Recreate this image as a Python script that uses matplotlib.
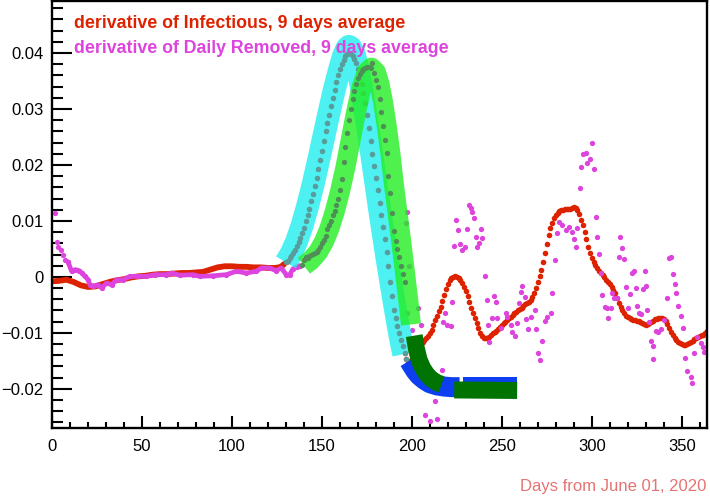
import matplotlib
matplotlib.use("Agg")
import matplotlib.pyplot as plt
from matplotlib.ticker import MultipleLocator, FuncFormatter

plt.rcParams['font.family'] = ['Liberation Sans', 'DejaVu Sans']

# ---------------- data ----------------
# derivative of Infectious, 9 days average (red)
red_days = [0, 4, 8, 12, 16, 20, 24, 28, 32, 36, 40, 44, 48, 52, 56, 60, 64, 68, 72, 76, 80,
            84, 88, 92, 96, 100, 104, 108, 112, 116, 120, 124, 126, 127, 128,
            129, 130, 131, 132, 133, 134, 135, 136, 137, 138, 139, 140, 141, 142, 143, 144,
            145, 146, 147, 148, 149, 150, 151, 152, 153, 154, 155, 156, 157, 158, 159, 160,
            161, 162, 163, 164, 165, 166, 167, 168, 169, 170, 171, 172, 173, 174, 175, 176,
            177, 178, 179, 180, 181, 182, 183, 184, 185, 186, 187, 188, 189, 190, 191, 192,
            193, 194, 195, 196, 197] + list(range(198, 365))
red_vals = [-0.0008, -0.0007, -0.0005, -0.0009, -0.0015, -0.0018, -0.0017, -0.0013, -0.0009,
            -0.0006, -0.0004, -0.0001, 0.0001, 0.0002, 0.0004, 0.0005, 0.0005, 0.0006, 0.0007,
            0.0007, 0.0008, 0.0009, 0.0013, 0.0017, 0.0019, 0.0019, 0.0018, 0.0018, 0.0017,
            0.0017, 0.0016, 0.0016, 0.0017, 0.0018, 0.0020,
            0.0023, 0.0026, 0.0029, 0.0033, 0.0037, 0.0042, 0.0048, 0.0055, 0.0062, 0.0070,
            0.0079, 0.0088, 0.0099, 0.0110, 0.0122, 0.0135, 0.0148, 0.0162, 0.0177, 0.0192,
            0.0208, 0.0225, 0.0243, 0.0260, 0.0275, 0.0290, 0.0305, 0.0320, 0.0334, 0.0348,
            0.0360, 0.0371, 0.0380, 0.0388, 0.0394, 0.0398, 0.0400, 0.0399, 0.0395, 0.0389,
            0.0382, 0.0372, 0.0360, 0.0345, 0.0328, 0.0310, 0.0289, 0.0266, 0.0243, 0.0220,
            0.0198, 0.0177, 0.0155, 0.0132, 0.0110, 0.0090, 0.0068, 0.0044, 0.0020, -0.0010,
            -0.0035, -0.0060, -0.0074, -0.0088, -0.0101, -0.0112, -0.0124, -0.0136, -0.0146,
            # 198 .. 364
            -0.0153, -0.0150, -0.0146, -0.0141, -0.0135, -0.0130, -0.0125, -0.0120, -0.0116,
            -0.0113, -0.0110, -0.0105, -0.0100, -0.0094, -0.0086, -0.0077, -0.0069, -0.0061,
            -0.0053, -0.0043, -0.0032, -0.0021, -0.0012, -0.0006, -0.0002, 0.0000, 0.0001,
            0.0000, -0.0002, -0.0006, -0.0011, -0.0018, -0.0026, -0.0035, -0.0045, -0.0055,
            -0.0064, -0.0073, -0.0083, -0.0092, -0.0100, -0.0106, -0.0109, -0.0110, -0.0109,
            -0.0107, -0.0104, -0.0101, -0.0098, -0.0096, -0.0093, -0.0090, -0.0086, -0.0083,
            -0.0080, -0.0077, -0.0074, -0.0071, -0.0068, -0.0065, -0.0062, -0.0060, -0.0057,
            -0.0055, -0.0052, -0.0049, -0.0047, -0.0045, -0.0041, -0.0036, -0.0029, -0.0020,
            -0.0010, 0.0001, 0.0013, 0.0027, 0.0043, 0.0059, 0.0075, 0.0087, 0.0097, 0.0105,
            0.0110, 0.0114, 0.0117, 0.0119, 0.0120, 0.0121, 0.0121, 0.0121, 0.0122, 0.0124,
            0.0125, 0.0124, 0.0119, 0.0112, 0.0102, 0.0092, 0.0080, 0.0067, 0.0054, 0.0043,
            0.0034, 0.0027, 0.0021, 0.0016, 0.0011, 0.0007, 0.0003, -0.0001, -0.0005, -0.0009,
            -0.0013, -0.0018, -0.0023, -0.0029, -0.0037, -0.0046, -0.0054, -0.0060, -0.0065,
            -0.0069, -0.0072, -0.0074, -0.0076, -0.0077, -0.0077, -0.0078, -0.0078, -0.0080,
            -0.0083, -0.0085, -0.0086, -0.0085, -0.0082, -0.0080, -0.0078, -0.0076, -0.0075,
            -0.0074, -0.0073, -0.0074, -0.0075, -0.0078, -0.0085, -0.0092, -0.0099, -0.0104,
            -0.0109, -0.0113, -0.0116, -0.0118, -0.0120, -0.0121, -0.0121, -0.0120, -0.0118,
            -0.0116, -0.0114, -0.0111, -0.0109, -0.0107, -0.0105, -0.0104, -0.0103, -0.0100,
            -0.0096]

# derivative of Daily Removed, 9 days average (magenta)
pink_days = [1.7, 2.7, 3.3, 5.0, 6.1, 7.2, 8.9, 10.9, 12.8, 15.2, 16.5, 18.3, 20.1, 21.1, 22.9,
             25.7, 27.6, 30.3, 33.1, 35.9, 39.6, 43.3, 47.0, 52.5, 57.1, 63.6, 66.4, 71.0, 78.4,
             82.1, 89.5, 96.9, 102.4, 108.0, 113.5, 116.3, 120.9, 124.6, 127.4, 130.2, 132.0,
             133.8, 136.0, 137.5,
             138, 139, 140, 141, 142, 143, 144, 145, 146, 147, 148, 149, 150, 151, 152, 153,
             154, 155, 156, 157, 158, 159, 160, 161, 162, 163, 164, 165, 166, 167, 168, 169,
             170, 171, 172, 173, 174, 175, 176, 177, 178, 179, 180, 181, 182, 183, 184, 185,
             186, 187, 188, 189, 190, 191, 192, 193, 194, 195, 196,
             196.9, 197.4, 197.5, 198.6, 200.2, 203.5, 205.2, 207.4, 210.2, 213.0, 214.1,
             216.9, 217.4, 218.5, 219.6, 221.9, 222.4, 223.5, 224.6, 225.7, 226.8, 227.9,
             229.6, 230.7, 231.8, 232.9, 233.5, 234.6, 235.7, 236.3, 237.4, 238.5, 239.0,
             240.7, 241.8, 242.4, 242.9, 244.6, 245.7, 246.8, 247.4, 249.6, 252.4, 252.9,
             255.1, 255.7, 257.3, 258.5, 259.6, 260.7, 261.2, 262.9, 263.4, 264.6, 266.2,
             268.4, 269.0, 270.1, 271.2, 272.3, 274.0, 275.1, 277.3, 277.9, 279.5, 280.6,
             281.8, 283.4, 285.6, 287.3, 288.9, 290.1, 291.2, 291.7, 293.4, 294.0, 295.1,
             296.7, 297.3, 298.9, 300.1, 301.2, 302.3, 302.8, 303.9, 305.0, 305.6, 307.3,
             308.4, 308.9, 310.6, 311.1, 312.3, 313.9, 315.0, 315.6, 316.7, 317.8, 318.9,
             320.0, 321.1, 322.2, 323.4, 324.5, 325.0, 326.1, 327.2, 328.3, 329.5, 330.0,
             330.6, 331.7, 332.8, 333.9, 334.0, 335.6, 336.7, 338.3, 340.0, 341.7, 342.8,
             343.9, 345.0, 346.1, 346.6, 347.7, 349.4, 350.5, 351.6, 352.7, 355.0, 355.5,
             356.6, 358.3, 360.5, 361.6, 362.2]
pink_vals = [0.0114, 0.0063, 0.0054, 0.0048, 0.0039, 0.0030, 0.0027, 0.0010, 0.0013, 0.0011,
             0.0007, 0.0001, -0.0005, -0.0014, -0.0017, -0.0014, -0.0020, -0.0011, -0.0014,
             -0.0005, -0.0005, 0.0001, 0.0001, 0.0001, 0.0004, 0.0004, 0.0007, 0.0003, 0.0004,
             0.0001, 0.0002, 0.0004, 0.0010, 0.0007, 0.0010, 0.0016, 0.0016, 0.0011, 0.0016,
             0.0004, 0.0003, 0.0014, 0.0018, 0.0020,
             0.0020, 0.0022, 0.0030, 0.0036, 0.0034, 0.0037, 0.0040, 0.0041, 0.0042, 0.0044,
             0.0048, 0.0053, 0.0060, 0.0066, 0.0073, 0.0085, 0.0093, 0.0100, 0.0110, 0.0118,
             0.0128, 0.0140, 0.0155, 0.0175, 0.0205, 0.0232, 0.0258, 0.0280, 0.0300, 0.0318,
             0.0332, 0.0345, 0.0355, 0.0362, 0.0368, 0.0372, 0.0374, 0.0375, 0.0375, 0.0374,
             0.0382, 0.0365, 0.0352, 0.0340, 0.0318, 0.0295, 0.0270, 0.0245, 0.0222, 0.0180,
             0.0150, 0.0115, 0.0082, 0.0065, 0.0050, 0.0035, 0.0020, 0.0005, -0.0010,
             0.0096, 0.0116, -0.0064, 0.0020, -0.0095, -0.0055, -0.0086, -0.0246, -0.0257,
             -0.0221, -0.0254, -0.0166, -0.0080, -0.0064, -0.0086, -0.0088, -0.0045, 0.0055,
             0.0102, 0.0084, 0.0059, 0.0048, 0.0054, 0.0086, 0.0129, 0.0123, 0.0116, 0.0105,
             0.0071, 0.0054, 0.0061, 0.0086, 0.0070, 0.0002, -0.0041, -0.0086, -0.0116,
             -0.0073, -0.0034, -0.0045, -0.0073, -0.0091, -0.0064, -0.0071, -0.0086, -0.0098,
             -0.0105, -0.0082, -0.0046, -0.0027, -0.0016, -0.0036, -0.0075, -0.0093, -0.0071,
             -0.0059, -0.0093, -0.0136, -0.0148, -0.0114, -0.0079, -0.0071, -0.0064, -0.0029,
             0.0030, 0.0079, 0.0098, 0.0093, 0.0084, 0.0089, 0.0080, 0.0068, 0.0054, 0.0088,
             0.0159, 0.0196, 0.0220, 0.0221, 0.0204, 0.0211, 0.0239, 0.0193, 0.0107, 0.0071,
             0.0041, 0.0007, -0.0032, -0.0054, -0.0055, -0.0073, -0.0055, -0.0029, -0.0037,
             -0.0037, 0.0036, 0.0071, 0.0052, 0.0032, -0.0018, -0.0055, -0.0030, 0.0007,
             0.0011, -0.0020, -0.0052, -0.0064, -0.0066, -0.0021, 0.0011, -0.0016, -0.0059,
             -0.0080, -0.0114, -0.0123, -0.0146, -0.0096, -0.0098, -0.0093, -0.0077, -0.0037,
             0.0034, 0.0036, 0.0005, -0.0013, -0.0029, -0.0052, -0.0070, -0.0091, -0.0145,
             -0.0168, -0.0179, -0.0189, -0.0136, -0.0107, -0.0118, -0.0125, -0.0134]

# fitted / extrapolated bands
cyan_days = [130, 133, 136, 139, 142, 145, 148, 151, 154, 157, 160, 162, 164, 165, 166, 168,
             170, 172, 174, 176, 178, 180, 182, 184, 186, 188, 190, 192, 194, 195.5]
cyan_vals = [0.0026, 0.0042, 0.0064, 0.0092, 0.0126, 0.0164, 0.0206, 0.0250, 0.0294, 0.0336,
             0.0373, 0.0395, 0.0409, 0.0412, 0.0410, 0.0397, 0.0372, 0.0338, 0.0298, 0.0256,
             0.0212, 0.0167, 0.0122, 0.0079, 0.0037, -0.0003, -0.0042, -0.0080, -0.0115,
             -0.0138]
green_days = [140, 144, 148, 151, 154, 157, 160, 163, 166, 169, 172, 175, 177.5, 180, 182, 184,
              186, 188, 190, 192, 194, 196, 198, 199.5]
green_vals = [0.0020, 0.0030, 0.0045, 0.0062, 0.0085, 0.0115, 0.0152, 0.0195, 0.0245, 0.0295,
              0.0338, 0.0366, 0.0374, 0.0366, 0.0345, 0.0312, 0.0270, 0.0222, 0.0165, 0.0115,
              0.0065, 0.0012, -0.0042, -0.0085]
blue_days_a = [198.5, 200, 202, 204, 207, 210, 214, 218, 222, 226.5]
blue_vals_a = [-0.0150, -0.0158, -0.0168, -0.0176, -0.0184, -0.0190, -0.0194, -0.0196, -0.0197, -0.0197]
blue_days_b = [228.5, 258.5]
blue_vals_b = [-0.0197, -0.0197]
dkgreen_days_a = [201.3, 202.5, 204, 206, 208.5, 211, 214, 216.5]
dkgreen_vals_a = [-0.0105, -0.0128, -0.0148, -0.0163, -0.0175, -0.0183, -0.0189, -0.0192]
dkgreen_days_b = [223.5, 258.5]
dkgreen_vals_b = [-0.0202, -0.0203]

xticks = [0, 50, 100, 150, 200, 250, 300, 350]
legend_labels = ["derivative of Infectious, 9 days average",
                 "derivative of Daily Removed, 9 days average"]
xlabel_text = "Days from June 01, 2020"

# ---------------- style ----------------
RED = "#dd2200"
PINK = "#dd44dd"
CYAN = "#22eeee"
LGREEN = "#22ee22"
BLUE = "#0d3ff0"
DKGREEN = "#007300"

fig = plt.figure(figsize=(7.1, 4.97), dpi=100)
ax = fig.add_axes([52 / 710, 69 / 497, 655 / 710, 427 / 497])

# split series by region
red_line = [(d, v) for d, v in zip(red_days, red_vals) if d <= 129]
red_in = [(d, v) for d, v in zip(red_days, red_vals) if 129 < d <= 197]
red_out = [(d, v) for d, v in zip(red_days, red_vals) if d > 197]
pink_dots_early = [(d, v) for d, v in zip(pink_days, pink_vals) if d < 10]
pink_line = [(d, v) for d, v in zip(pink_days, pink_vals) if 8 < d < 139]
pink_in = [(d, v) for d, v in zip(pink_days, pink_vals) if 139 <= d <= 196]
pink_out = [(d, v) for d, v in zip(pink_days, pink_vals) if d > 196]

def xs(p): return [a for a, b in p]
def ys(p): return [b for a, b in p]

ax.plot(xs(red_line), ys(red_line), color=RED, lw=4.2, solid_capstyle='round', zorder=2)
ax.plot(xs(red_out), ys(red_out), 'o', color=RED, ms=4.0, mec='none', zorder=2)
ax.plot(xs(red_in), ys(red_in), 'o', color=RED, ms=4.0, mec='none', zorder=2)

ax.plot(xs(pink_line), ys(pink_line), color=PINK, lw=3.4, solid_capstyle='round', zorder=2.5)
ax.plot(xs(pink_line), ys(pink_line), 'o', color=PINK, ms=3.8, mec='none', zorder=2.5)
ax.plot(xs(pink_dots_early), ys(pink_dots_early), 'o', color=PINK, ms=3.8, mec='none', zorder=2.5)
ax.plot(xs(pink_out), ys(pink_out), 'o', color=PINK, ms=3.8, mec='none', zorder=2.5)

ax.plot(cyan_days, cyan_vals, color=CYAN, lw=16.5, alpha=0.8, solid_capstyle='butt',
        solid_joinstyle='round', zorder=3)
ax.plot(xs(red_in), ys(red_in), 'o', color="#5a9c9c", ms=3.8, mec='none', zorder=3.2)
ax.plot(green_days, green_vals, color=LGREEN, lw=14.4, alpha=0.8, solid_capstyle='butt',
        solid_joinstyle='round', zorder=4)
ax.plot(xs(pink_in), ys(pink_in), 'o', color="#4f8f55", ms=3.8, mec='none', zorder=4.2)

for dd, vv in ((blue_days_a, blue_vals_a), (blue_days_b, blue_vals_b)):
    ax.plot(dd, vv, color=BLUE, lw=14.4, solid_capstyle='butt', solid_joinstyle='round', zorder=5)
for dd, vv in ((dkgreen_days_a, dkgreen_vals_a), (dkgreen_days_b, dkgreen_vals_b)):
    ax.plot(dd, vv, color=DKGREEN, lw=12.2, solid_capstyle='butt', solid_joinstyle='round', zorder=6)

ax.set_xlim(0, 364)
ax.set_ylim(-0.0270, 0.0493)

ax.set_xticks(xticks)
ax.xaxis.set_minor_locator(MultipleLocator(10))
ax.yaxis.set_major_locator(MultipleLocator(0.01))
ax.yaxis.set_minor_locator(MultipleLocator(0.002))

def yfmt(v, pos):
    if abs(v) < 1e-9:
        return "0"
    return f"{v:.2f}".replace('-', '\u2212')
ax.yaxis.set_major_formatter(FuncFormatter(yfmt))

ax.tick_params(axis='y', which='major', direction='in', length=14.4, width=1.5, labelsize=12, pad=6)
ax.tick_params(axis='y', which='minor', direction='in', length=8.0, width=1.5)
ax.tick_params(axis='x', which='major', direction='in', length=8.6, width=1.5, labelsize=12, pad=8)
ax.tick_params(axis='x', which='minor', direction='in', length=4.5, width=1.5)
for s in ax.spines.values():
    s.set_linewidth(1.7)

ax.text(22 / 655, (428 - 28) / 427, legend_labels[0], transform=ax.transAxes, color=RED,
        fontsize=12.8, fontweight='bold', va='baseline', ha='left', zorder=10)
ax.text(22 / 655, (428 - 53) / 427, legend_labels[1], transform=ax.transAxes, color=PINK,
        fontsize=12.8, fontweight='bold', va='baseline', ha='left', zorder=10)

fig.text(706 / 710, 1 - 491 / 497, xlabel_text, color="#e57373", fontsize=12,
         ha='right', va='baseline')

fig.savefig("out.png", dpi=100)
